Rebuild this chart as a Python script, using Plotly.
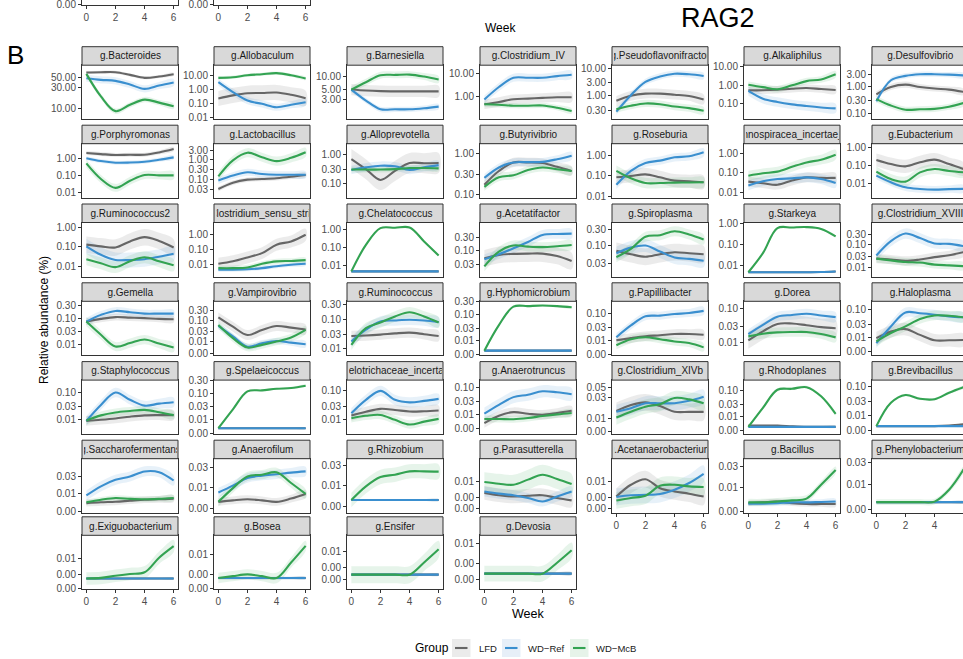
import plotly.graph_objects as go

W, H = 963, 659
FONT = "Liberation Sans, Arial, Helvetica, sans-serif"

WEEKS = [0, 1, 2, 3, 4, 5, 6]

GENERA = [
    "g.Bacteroides", "g.Allobaculum", "g.Barnesiella", "g.Clostridium_IV", "g.Pseudoflavonifractor", "g.Alkaliphilus", "g.Desulfovibrio",
    "g.Porphyromonas", "g.Lactobacillus", "g.Alloprevotella", "g.Butyrivibrio", "g.Roseburia", "g.Lachnospiracea_incertae_sedis", "g.Eubacterium",
    "g.Ruminococcus2", "g.Clostridium_sensu_stricto", "g.Chelatococcus", "g.Acetatifactor", "g.Spiroplasma", "g.Starkeya", "g.Clostridium_XVIII",
    "g.Gemella", "g.Vampirovibrio", "g.Ruminococcus", "g.Hyphomicrobium", "g.Papillibacter", "g.Dorea", "g.Haloplasma",
    "g.Staphylococcus", "g.Spelaeicoccus", "g.Erysipelotrichaceae_incertae_sedis", "g.Anaerotruncus", "g.Clostridium_XIVb", "g.Rhodoplanes", "g.Brevibacillus",
    "g.Saccharofermentans", "g.Anaerofilum", "g.Rhizobium", "g.Parasutterella", "g.Acetanaerobacterium", "g.Bacillus", "g.Phenylobacterium",
    "g.Exiguobacterium", "g.Bosea", "g.Ensifer", "g.Devosia",
]

# Relative abundance (%) per week 0..6, LFD group
LFD = {
    "g.Bacteroides": [64.6, 65.7, 65.7, 57.3, 49.2, 52.6, 59.3],
    "g.Allobaculum": [0.24, 0.4, 0.57, 0.6, 0.64, 0.44, 0.25],
    "g.Barnesiella": [5, 4.74, 4.6, 4.55, 4.55, 4.55, 4.55],
    "g.Clostridium_IV": [0.45, 0.57, 0.74, 0.79, 0.85, 0.9, 0.9],
    "g.Pseudoflavonifractor": [0.66, 1.0, 1.2, 1.2, 1.1, 0.99, 0.74],
    "g.Alkaliphilus": [0.54, 0.54, 0.58, 0.66, 0.72, 0.63, 0.56],
    "g.Desulfovibrio": [0.53, 1.0, 1.22, 1.0, 0.87, 0.79, 0.65],
    "g.Porphyromonas": [1.95, 1.7, 1.5, 1.55, 1.55, 2.1, 3.3],
    "g.Lactobacillus": [0.031, 0.065, 0.093, 0.1, 0.11, 0.13, 0.16],
    "g.Alloprevotella": [0.71, 0.32, 0.137, 0.28, 0.52, 0.51, 0.52],
    "g.Butyrivibrio": [0.17, 0.37, 0.6, 0.6, 0.58, 0.47, 0.37],
    "g.Roseburia": [0.086, 0.1, 0.12, 0.086, 0.059, 0.055, 0.049],
    "g.Lachnospiracea_incertae_sedis": [0.035, 0.029, 0.024, 0.04, 0.059, 0.055, 0.055],
    "g.Eubacterium": [0.2, 0.12, 0.09, 0.15, 0.21, 0.12, 0.064],
    "g.Ruminococcus2": [0.13, 0.107, 0.094, 0.19, 0.31, 0.2, 0.094],
    "g.Clostridium_sensu_stricto": [0.0117, 0.017, 0.031, 0.06, 0.22, 0.36, 1.0],
    "g.Chelatococcus": [0.0044, 0.0044, 0.0044, 0.0044, 0.0044, 0.0044, 0.0044],
    "g.Acetatifactor": [0.051, 0.068, 0.074, 0.076, 0.076, 0.062, 0.041],
    "g.Spiroplasma": [0.07, 0.056, 0.047, 0.056, 0.064, 0.06, 0.056],
    "g.Starkeya": [0.0046, 0.0046, 0.0046, 0.0046, 0.0046, 0.0047, 0.005],
    "g.Clostridium_XVIII": [0.024, 0.022, 0.019, 0.022, 0.028, 0.034, 0.047],
    "g.Gemella": [0.074, 0.094, 0.11, 0.105, 0.1, 0.094, 0.091],
    "g.Vampirovibrio": [0.138, 0.051, 0.021, 0.036, 0.055, 0.046, 0.038],
    "g.Ruminococcus": [0.027, 0.028, 0.03, 0.033, 0.035, 0.031, 0.027],
    "g.Hyphomicrobium": [0.0043, 0.0043, 0.0043, 0.0043, 0.0043, 0.0043, 0.0043],
    "g.Papillibacter": [0.01, 0.012, 0.014, 0.0153, 0.017, 0.017, 0.016],
    "g.Dorea": [0.0112, 0.021, 0.035, 0.036, 0.032, 0.028, 0.026],
    "g.Haloplasma": [0.0091, 0.016, 0.0195, 0.012, 0.0076, 0.0076, 0.0078],
    "g.Staphylococcus": [0.0091, 0.01, 0.0112, 0.013, 0.0145, 0.0148, 0.0148],
    "g.Spelaeicoccus": [0.0046, 0.0046, 0.0046, 0.0046, 0.0046, 0.0046, 0.0046],
    "g.Erysipelotrichaceae_incertae_sedis": [0.0141, 0.019, 0.024, 0.022, 0.0194, 0.0198, 0.021],
    "g.Anaerotruncus": [0.0046, 0.0087, 0.0118, 0.0103, 0.0094, 0.011, 0.0133],
    "g.Clostridium_XIVb": [0.0147, 0.02, 0.023, 0.019, 0.0141, 0.014, 0.014],
    "g.Rhodoplanes": [0.0047, 0.0047, 0.0047, 0.0044, 0.0042, 0.0042, 0.0042],
    "g.Brevibacillus": [0.0043, 0.0043, 0.0043, 0.0043, 0.0043, 0.0045, 0.005],
    "g.Saccharofermentans": [0.0051, 0.0054, 0.0056, 0.006, 0.0064, 0.0066, 0.0069],
    "g.Anaerofilum": [0.0044, 0.0048, 0.0051, 0.0048, 0.0044, 0.0053, 0.0069],
    "g.Rhizobium": [0.0043, 0.0043, 0.0043, 0.0043, 0.0043, 0.0043, 0.0043],
    "g.Parasutterella": [0.006, 0.0054, 0.0051, 0.0053, 0.0054, 0.0048, 0.0043],
    "g.Acetanaerobacterium": [0.0051, 0.0086, 0.011, 0.0074, 0.0064, 0.0058, 0.0051],
    "g.Bacillus": [0.0045, 0.0047, 0.0049, 0.0045, 0.0043, 0.0043, 0.0043],
    "g.Phenylobacterium": [0.0043, 0.0043, 0.0043, 0.0043, 0.0043, 0.0043, 0.0043],
    "g.Exiguobacterium": [0.0022, 0.0022, 0.0022, 0.0022, 0.0022, 0.0022, 0.0022],
    "g.Bosea": [0.0044, 0.0044, 0.0044, 0.0044, 0.0044, 0.0044, 0.0044],
    "g.Ensifer": [0.0037, 0.0037, 0.0037, 0.0037, 0.0037, 0.0037, 0.0037],
    "g.Devosia": [0.0036, 0.0036, 0.0036, 0.0036, 0.0036, 0.0036, 0.0036],
}

# WD-Ref group
WD_REF = {
    "g.Bacteroides": [48.3, 44.4, 42.2, 34.9, 27.9, 33.2, 38.7],
    "g.Allobaculum": [3.5, 0.68, 0.17, 0.10, 0.057, 0.085, 0.13],
    "g.Barnesiella": [5, 2.78, 1.75, 1.75, 1.75, 1.85, 2.02],
    "g.Clostridium_IV": [0.72, 2.5, 6.3, 6.3, 6.3, 7.4, 8.5],
    "g.Pseudoflavonifractor": [0.27, 1.06, 3.2, 5.0, 6.3, 6.0, 5.2],
    "g.Alkaliphilus": [0.5, 0.19, 0.126, 0.094, 0.076, 0.064, 0.057],
    "g.Desulfovibrio": [0.29, 1.78, 2.6, 3.0, 3.0, 2.9, 2.7],
    "g.Porphyromonas": [0.98, 0.67, 0.54, 0.55, 0.61, 0.8, 1.1],
    "g.Lactobacillus": [0.085, 0.15, 0.22, 0.18, 0.166, 0.166, 0.166],
    "g.Alloprevotella": [0.30, 0.37, 0.42, 0.40, 0.30, 0.37, 0.44],
    "g.Butyrivibrio": [0.25, 0.45, 0.6, 0.61, 0.62, 0.72, 0.88],
    "g.Roseburia": [0.037, 0.18, 0.44, 0.57, 0.83, 0.93, 1.46],
    "g.Lachnospiracea_incertae_sedis": [0.022, 0.037, 0.048, 0.052, 0.059, 0.048, 0.03],
    "g.Eubacterium": [0.028, 0.012, 0.0063, 0.0051, 0.0047, 0.005, 0.0052],
    "g.Ruminococcus2": [0.107, 0.04, 0.022, 0.022, 0.024, 0.032, 0.045],
    "g.Clostridium_sensu_stricto": [0.0047, 0.0047, 0.005, 0.006, 0.0081, 0.01, 0.0117],
    "g.Chelatococcus": [0.0044, 0.0044, 0.0044, 0.0044, 0.0044, 0.0044, 0.0044],
    "g.Acetatifactor": [0.047, 0.072, 0.118, 0.2, 0.36, 0.39, 0.4],
    "g.Spiroplasma": [0.06, 0.087, 0.1, 0.067, 0.045, 0.041, 0.036],
    "g.Starkeya": [0.0046, 0.0046, 0.0046, 0.0046, 0.0046, 0.0047, 0.005],
    "g.Clostridium_XVIII": [0.033, 0.145, 0.32, 0.2, 0.115, 0.11, 0.087],
    "g.Gemella": [0.074, 0.134, 0.19, 0.17, 0.15, 0.15, 0.15],
    "g.Vampirovibrio": [0.055, 0.018, 0.006, 0.0087, 0.011, 0.0093, 0.0078],
    "g.Ruminococcus": [0.0177, 0.044, 0.083, 0.09, 0.095, 0.09, 0.08],
    "g.Hyphomicrobium": [0.0043, 0.0043, 0.0043, 0.0043, 0.0043, 0.0043, 0.0043],
    "g.Papillibacter": [0.013, 0.035, 0.076, 0.08, 0.092, 0.1, 0.12],
    "g.Dorea": [0.0174, 0.033, 0.058, 0.065, 0.071, 0.063, 0.056],
    "g.Haloplasma": [0.006, 0.0245, 0.08, 0.074, 0.066, 0.057, 0.053],
    "g.Staphylococcus": [0.0091, 0.035, 0.1, 0.054, 0.033, 0.039, 0.044],
    "g.Spelaeicoccus": [0.0046, 0.0046, 0.0046, 0.0046, 0.0046, 0.0046, 0.0046],
    "g.Erysipelotrichaceae_incertae_sedis": [0.017, 0.049, 0.1, 0.049, 0.04, 0.045, 0.053],
    "g.Anaerotruncus": [0.0103, 0.022, 0.043, 0.053, 0.071, 0.065, 0.055],
    "g.Clostridium_XIVb": [0.0141, 0.017, 0.022, 0.022, 0.022, 0.025, 0.031],
    "g.Rhodoplanes": [0.0042, 0.0042, 0.0042, 0.0042, 0.0042, 0.0042, 0.0042],
    "g.Brevibacillus": [0.0043, 0.0043, 0.0043, 0.0043, 0.0043, 0.0043, 0.0043],
    "g.Saccharofermentans": [0.0085, 0.0156, 0.024, 0.03, 0.042, 0.04, 0.023],
    "g.Anaerofilum": [0.0075, 0.011, 0.017, 0.0194, 0.021, 0.023, 0.0247],
    "g.Rhizobium": [0.0043, 0.0043, 0.0043, 0.0043, 0.0043, 0.0043, 0.0043],
    "g.Parasutterella": [0.0064, 0.0058, 0.0054, 0.0048, 0.0041, 0.0051, 0.0064],
    "g.Acetanaerobacterium": [0.005, 0.0054, 0.0055, 0.0057, 0.0069, 0.0093, 0.014],
    "g.Bacillus": [0.0044, 0.0044, 0.0045, 0.0047, 0.0047, 0.0048, 0.0049],
    "g.Phenylobacterium": [0.0043, 0.0043, 0.0043, 0.0043, 0.0043, 0.0043, 0.0043],
    "g.Exiguobacterium": [0.0022, 0.0022, 0.0022, 0.0022, 0.0022, 0.0022, 0.0022],
    "g.Bosea": [0.0044, 0.0044, 0.0044, 0.0044, 0.0044, 0.0044, 0.0044],
    "g.Ensifer": [0.0037, 0.0037, 0.0037, 0.0037, 0.0037, 0.0037, 0.0037],
    "g.Devosia": [0.0036, 0.0036, 0.0036, 0.0036, 0.0036, 0.0036, 0.0036],
}

# WD-McB group
WD_MCB = {
    "g.Bacteroides": [60.4, 19.0, 8.9, 12.3, 16.1, 13.8, 11.5],
    "g.Allobaculum": [7.2, 8, 11, 13, 15.5, 11, 6.5],
    "g.Barnesiella": [5, 7.4, 10.7, 10.9, 11.1, 10, 8.5],
    "g.Clostridium_IV": [0.45, 0.43, 0.39, 0.39, 0.4, 0.32, 0.23],
    "g.Pseudoflavonifractor": [0.33, 0.44, 0.53, 0.5, 0.41, 0.36, 0.29],
    "g.Alkaliphilus": [1.07, 0.8, 0.62, 1.0, 1.7, 2.1, 4.0],
    "g.Desulfovibrio": [0.35, 0.2, 0.14, 0.145, 0.15, 0.18, 0.25],
    "g.Porphyromonas": [0.49, 0.062, 0.019, 0.049, 0.105, 0.1, 0.1],
    "g.Lactobacillus": [0.137, 0.9, 2.2, 1.3, 0.82, 1.2, 2.3],
    "g.Alloprevotella": [0.31, 0.31, 0.31, 0.32, 0.35, 0.35, 0.34],
    "g.Butyrivibrio": [0.15, 0.26, 0.29, 0.39, 0.45, 0.41, 0.37],
    "g.Roseburia": [0.18, 0.077, 0.045, 0.045, 0.047, 0.048, 0.049],
    "g.Lachnospiracea_incertae_sedis": [0.072, 0.096, 0.118, 0.21, 0.36, 0.5, 0.92],
    "g.Eubacterium": [0.046, 0.018, 0.013, 0.042, 0.064, 0.05, 0.042],
    "g.Ruminococcus2": [0.024, 0.015, 0.0096, 0.019, 0.03, 0.019, 0.012],
    "g.Clostridium_sensu_stricto": [0.006, 0.006, 0.0066, 0.0117, 0.017, 0.018, 0.0204],
    "g.Chelatococcus": [0.0044, 0.14, 1.24, 1.3, 1.35, 0.22, 0.035],
    "g.Acetatifactor": [0.026, 0.09, 0.15, 0.136, 0.13, 0.14, 0.156],
    "g.Spiroplasma": [0.046, 0.08, 0.18, 0.2, 0.26, 0.21, 0.15],
    "g.Starkeya": [0.0046, 0.038, 0.6, 0.64, 0.67, 0.55, 0.24],
    "g.Clostridium_XVIII": [0.024, 0.02, 0.017, 0.016, 0.013, 0.012, 0.011],
    "g.Gemella": [0.074, 0.023, 0.0081, 0.011, 0.015, 0.0105, 0.0074],
    "g.Vampirovibrio": [0.061, 0.015, 0.0055, 0.0073, 0.0104, 0.016, 0.036],
    "g.Ruminococcus": [0.0136, 0.05, 0.077, 0.123, 0.17, 0.123, 0.077],
    "g.Hyphomicrobium": [0.0043, 0.039, 0.19, 0.2, 0.21, 0.2, 0.18],
    "g.Papillibacter": [0.0066, 0.011, 0.013, 0.011, 0.0091, 0.0079, 0.0055],
    "g.Dorea": [0.0148, 0.0178, 0.0195, 0.02, 0.02, 0.0174, 0.0138],
    "g.Haloplasma": [0.0069, 0.014, 0.0245, 0.046, 0.062, 0.06, 0.053],
    "g.Staphylococcus": [0.0094, 0.0145, 0.0186, 0.021, 0.023, 0.019, 0.0148],
    "g.Spelaeicoccus": [0.0046, 0.024, 0.115, 0.126, 0.145, 0.154, 0.19],
    "g.Erysipelotrichaceae_incertae_sedis": [0.0114, 0.0138, 0.0148, 0.01, 0.0069, 0.0087, 0.0108],
    "g.Anaerotruncus": [0.0065, 0.0065, 0.0064, 0.0071, 0.0084, 0.0097, 0.011],
    "g.Clostridium_XIVb": [0.0104, 0.0141, 0.0184, 0.021, 0.029, 0.027, 0.022],
    "g.Rhodoplanes": [0.0042, 0.022, 0.106, 0.115, 0.133, 0.06, 0.013],
    "g.Brevibacillus": [0.0043, 0.027, 0.05, 0.037, 0.036, 0.06, 0.093],
    "g.Saccharofermentans": [0.0054, 0.0064, 0.0072, 0.0068, 0.0066, 0.0068, 0.0072],
    "g.Anaerofilum": [0.0044, 0.0096, 0.0186, 0.0205, 0.0234, 0.0128, 0.0069],
    "g.Rhizobium": [0.0043, 0.0093, 0.0157, 0.0179, 0.0215, 0.0215, 0.0212],
    "g.Parasutterella": [0.0097, 0.009, 0.0086, 0.0108, 0.0134, 0.0111, 0.0089],
    "g.Acetanaerobacterium": [0.0043, 0.0048, 0.0053, 0.0082, 0.0086, 0.008, 0.0078],
    "g.Bacillus": [0.0047, 0.0047, 0.0049, 0.0052, 0.0057, 0.0117, 0.025],
    "g.Phenylobacterium": [0.0043, 0.0043, 0.0043, 0.0043, 0.0044, 0.0078, 0.021],
    "g.Exiguobacterium": [0.0022, 0.0023, 0.0027, 0.0031, 0.0035, 0.0105, 0.025],
    "g.Bosea": [0.0044, 0.0047, 0.005, 0.0047, 0.0044, 0.0076, 0.0137],
    "g.Ensifer": [0.0037, 0.0037, 0.0037, 0.0037, 0.0037, 0.0063, 0.0112],
    "g.Devosia": [0.0036, 0.0036, 0.0036, 0.0036, 0.0036, 0.0052, 0.0079],
}

# Confidence band (multiplicative half-width) for [LFD, WD-Ref, WD-McB]
BAND = {
    "g.Bacteroides": [1.08, 1.2, 1.15], "g.Allobaculum": [3.5, 1.8, 1.3], "g.Barnesiella": [1.35, 1.15, 1.2],
    "g.Clostridium_IV": [1.6, 1.5, 1.3], "g.Pseudoflavonifractor": [1.5, 1.3, 1.35], "g.Alkaliphilus": [1.6, 1.8, 1.5],
    "g.Desulfovibrio": [1.3, 1.25, 1.3], "g.Porphyromonas": [1.3, 1.3, 1.7], "g.Lactobacillus": [1.3, 1.5, 1.7],
    "g.Alloprevotella": [2.2, 1.4, 1.25], "g.Butyrivibrio": [1.3, 1.25, 1.25], "g.Roseburia": [2.1, 1.6, 1.8],
    "g.Lachnospiracea_incertae_sedis": [1.8, 1.8, 1.8], "g.Eubacterium": [2.3, 1.6, 1.9], "g.Ruminococcus2": [2.6, 2.4, 2.0],
    "g.Clostridium_sensu_stricto": [2.5, 1.35, 1.5], "g.Chelatococcus": [1.05, 1.05, 1.1], "g.Acetatifactor": [2.0, 1.5, 1.5],
    "g.Spiroplasma": [1.75, 1.55, 1.4], "g.Starkeya": [1.05, 1.05, 1.1], "g.Clostridium_XVIII": [1.6, 1.7, 1.5],
    "g.Gemella": [1.35, 1.4, 1.5], "g.Vampirovibrio": [1.7, 1.4, 1.5], "g.Ruminococcus": [1.5, 1.5, 1.5],
    "g.Hyphomicrobium": [1.05, 1.05, 1.1], "g.Papillibacter": [1.5, 1.4, 1.4], "g.Dorea": [1.8, 1.4, 1.4],
    "g.Haloplasma": [1.7, 1.5, 1.5], "g.Staphylococcus": [1.5, 1.5, 1.4], "g.Spelaeicoccus": [1.05, 1.05, 1.08],
    "g.Erysipelotrichaceae_incertae_sedis": [1.5, 1.5, 1.4], "g.Anaerotruncus": [1.5, 1.7, 1.35],
    "g.Clostridium_XIVb": [1.55, 1.45, 1.45], "g.Rhodoplanes": [1.08, 1.05, 1.12], "g.Brevibacillus": [1.05, 1.05, 1.1],
    "g.Saccharofermentans": [1.25, 1.4, 1.2], "g.Anaerofilum": [1.25, 1.3, 1.3], "g.Rhizobium": [1.05, 1.05, 1.5],
    "g.Parasutterella": [1.35, 1.25, 1.55], "g.Acetanaerobacterium": [1.45, 1.45, 1.45], "g.Bacillus": [1.15, 1.15, 1.2],
    "g.Phenylobacterium": [1.05, 1.05, 1.15], "g.Exiguobacterium": [1.05, 1.05, 1.6], "g.Bosea": [1.05, 1.05, 1.2],
    "g.Ensifer": [1.05, 1.05, 1.45], "g.Devosia": [1.05, 1.05, 1.3],
}

# y-axis tick values per panel
YTICKS = {
    "g.Bacteroides": [10, 30, 50], "g.Allobaculum": [0.01, 0.1, 1, 10], "g.Barnesiella": [3, 5, 10],
    "g.Clostridium_IV": [0.1, 1, 10], "g.Pseudoflavonifractor": [0.3, 1, 3, 10], "g.Alkaliphilus": [0.1, 1, 10],
    "g.Desulfovibrio": [0.1, 0.3, 1, 3], "g.Porphyromonas": [0.01, 0.1, 1], "g.Lactobacillus": [0.03, 0.1, 0.3, 1, 3],
    "g.Alloprevotella": [0.1, 0.3, 1], "g.Butyrivibrio": [0.1, 0.3, 1], "g.Roseburia": [0.01, 0.1, 1],
    "g.Lachnospiracea_incertae_sedis": [0.01, 0.1, 1], "g.Eubacterium": [0.01, 0.1, 1], "g.Ruminococcus2": [0.01, 0.1, 1],
    "g.Clostridium_sensu_stricto": [0.01, 0.1, 1], "g.Chelatococcus": [0.01, 0.1, 1], "g.Acetatifactor": [0.03, 0.1, 0.3],
    "g.Spiroplasma": [0.03, 0.1, 0.3], "g.Starkeya": [0.01, 0.1, 1], "g.Clostridium_XVIII": [0.01, 0.03, 0.1, 0.3],
    "g.Gemella": [0.01, 0.03, 0.1, 0.3], "g.Vampirovibrio": [0.003, 0.01, 0.03, 0.1, 0.3], "g.Ruminococcus": [0.01, 0.03, 0.1, 0.3],
    "g.Hyphomicrobium": [0.003, 0.01, 0.03, 0.1, 0.3], "g.Papillibacter": [0.003, 0.01, 0.03, 0.1], "g.Dorea": [0.01, 0.03, 0.1],
    "g.Haloplasma": [0.003, 0.01, 0.03, 0.1], "g.Staphylococcus": [0.01, 0.03, 0.1], "g.Spelaeicoccus": [0.003, 0.01, 0.03, 0.1, 0.3],
    "g.Erysipelotrichaceae_incertae_sedis": [0.01, 0.03, 0.1], "g.Anaerotruncus": [0.003, 0.01, 0.03, 0.1],
    "g.Clostridium_XIVb": [0.005, 0.01, 0.03, 0.05], "g.Rhodoplanes": [0.003, 0.01, 0.03, 0.1], "g.Brevibacillus": [0.003, 0.01, 0.03, 0.1],
    "g.Saccharofermentans": [0.003, 0.01, 0.03], "g.Anaerofilum": [0.003, 0.01, 0.03], "g.Rhizobium": [0.003, 0.01, 0.03],
    "g.Parasutterella": [0.003, 0.005, 0.01], "g.Acetanaerobacterium": [0.003, 0.005, 0.01], "g.Bacillus": [0.003, 0.01, 0.03],
    "g.Phenylobacterium": [0.003, 0.01, 0.03], "g.Exiguobacterium": [0.001, 0.003, 0.01], "g.Bosea": [0.003, 0.005, 0.01],
    "g.Ensifer": [0.003, 0.005, 0.01], "g.Devosia": [0.003, 0.005, 0.01],
}

# visible y range per panel (log10 units)
YRANGE = {
    "g.Bacteroides": [0.77, 1.974], "g.Allobaculum": [-2.1, 1.76], "g.Barnesiella": [0.014, 1.262],
    "g.Clostridium_IV": [-0.99, 1.34], "g.Pseudoflavonifractor": [-0.844, 1.107], "g.Alkaliphilus": [-1.83, 1.09],
    "g.Desulfovibrio": [-1.21, 0.815], "g.Porphyromonas": [-2.29, 0.83], "g.Lactobacillus": [-1.95, 0.80],
    "g.Alloprevotella": [-1.47, 0.375], "g.Butyrivibrio": [-1.09, 0.24], "g.Roseburia": [-2.07, 0.59],
    "g.Lachnospiracea_incertae_sedis": [-2.3, 0.54], "g.Eubacterium": [-2.77, 0.2], "g.Ruminococcus2": [-2.49, 0.23],
    "g.Clostridium_sensu_stricto": [-2.78, 0.82], "g.Chelatococcus": [-2.645, 0.415], "g.Acetatifactor": [-1.95, 0.007],
    "g.Spiroplasma": [-1.9, -0.33], "g.Starkeya": [-2.54, 0.046], "g.Clostridium_XVIII": [-2.42, 0.0],
    "g.Gemella": [-2.43, -0.35], "g.Vampirovibrio": [-2.62, -0.115], "g.Ruminococcus": [-2.22, -0.40],
    "g.Hyphomicrobium": [-2.54, -0.52], "g.Papillibacter": [-2.55, -0.57], "g.Dorea": [-2.40, -0.775],
    "g.Haloplasma": [-2.67, -0.69], "g.Staphylococcus": [-2.525, -0.545], "g.Spelaeicoccus": [-2.56, -0.51],
    "g.Erysipelotrichaceae_incertae_sedis": [-2.49, -0.63], "g.Anaerotruncus": [-2.75, -0.73],
    "g.Clostridium_XIVb": [-2.36, -1.13], "g.Rhodoplanes": [-2.65, -0.61], "g.Brevibacillus": [-2.64, -0.79],
    "g.Saccharofermentans": [-2.567, -1.01], "g.Anaerofilum": [-2.623, -1.295], "g.Rhizobium": [-2.675, -1.358],
    "g.Parasutterella": [-2.603, -1.564], "g.Acetanaerobacterium": [-2.603, -1.564], "g.Bacillus": [-2.56, -1.35],
    "g.Phenylobacterium": [-2.59, -1.453], "g.Exiguobacterium": [-3.01, -1.25], "g.Bosea": [-2.53, -1.7],
    "g.Ensifer": [-2.71, -1.684], "g.Devosia": [-2.673, -1.883],
}

XTICKS = [0, 2, 4, 6]
GROUP_NAMES = ["LFD", "WD\u2212Ref", "WD\u2212McB"]
LINE_COLORS = ["#666666", "#3a8fcf", "#33a352"]
FILL_COLORS = ["rgba(102,102,102,0.13)", "rgba(58,143,207,0.12)", "rgba(51,163,82,0.12)"]

# ---------------- layout geometry (pixels) ----------------
COL_LEFT = [82, 214, 347, 480, 612, 744, 872]
PANEL_W = 96
ROW_TOP = [46.7, 125.2, 204.0, 282.8, 361.6, 440.2, 516.8]
STRIP_H = 18.5
PLOT_H = 54


def fmt(v):
    return f"{v:.2f}" if v >= 0.0095 else "0.00"


def px(x):
    return x / W


def py(y):
    return 1 - y / H


fig = go.Figure()
layout_axes = {}
shapes = []
annotations = []

AX_LINE = "#333333"
TICK_FONT = dict(family=FONT, size=10, color="#4d4d4d")

series = [LFD, WD_REF, WD_MCB]

for i, g in enumerate(GENERA):
    k = i + 1
    r, c = divmod(i, 7)
    sfx = "" if k == 1 else str(k)
    xa, ya = "x" + sfx, "y" + sfx
    x0 = COL_LEFT[c]
    x1 = min(x0 + PANEL_W, W)
    st = ROW_TOP[r]
    pt = st + STRIP_H
    pb = pt + PLOT_H
    bottom = (r == 6) or (r == 5 and c >= 4)
    xr_end = -0.3 + 6.6 * (x1 - x0) / PANEL_W

    layout_axes["xaxis" + sfx] = dict(
        domain=[px(x0), px(x1)], range=[-0.3, xr_end], anchor=ya, automargin=False,
        showline=True, mirror=True, linecolor=AX_LINE, linewidth=1,
        showgrid=False, zeroline=False, fixedrange=True,
        ticks="outside" if bottom else "", ticklen=3, tickcolor=AX_LINE,
        tickvals=XTICKS, ticktext=[str(t) for t in XTICKS],
        showticklabels=bottom, tickfont=TICK_FONT,
    )
    layout_axes["yaxis" + sfx] = dict(
        domain=[py(pb), py(pt)], type="log", range=YRANGE[g], anchor=xa, automargin=False,
        showline=True, mirror=True, linecolor=AX_LINE, linewidth=1,
        showgrid=False, zeroline=False, fixedrange=True,
        ticks="outside", ticklen=3, tickcolor=AX_LINE,
        tickvals=YTICKS[g], ticktext=[fmt(v) for v in YTICKS[g]],
        tickfont=TICK_FONT,
    )

    # ribbons
    for gi in range(3):
        v = series[gi][g]
        f = BAND[g][gi]
        up = [a * f for a in v]
        lo = [a / f for a in v]
        fig.add_trace(go.Scatter(
            x=WEEKS + WEEKS[::-1], y=up + lo[::-1], fill="toself",
            fillcolor=FILL_COLORS[gi], mode="lines",
            line=dict(width=0, shape="spline", smoothing=1),
            hoverinfo="skip", showlegend=False, xaxis=xa, yaxis=ya,
        ))
    # lines
    for gi in range(3):
        fig.add_trace(go.Scatter(
            x=WEEKS, y=series[gi][g], mode="lines", name=GROUP_NAMES[gi],
            line=dict(color=LINE_COLORS[gi], width=2.1, shape="spline", smoothing=1),
            showlegend=False, xaxis=xa, yaxis=ya,
        ))

    # strip
    shapes.append(dict(type="rect", xref="paper", yref="paper",
                       x0=px(x0), x1=px(x0 + PANEL_W), y0=py(pt), y1=py(st),
                       fillcolor="#d9d9d9", line=dict(color=AX_LINE, width=1), layer="above"))
    annotations.append(dict(xref="paper", yref="paper", x=px(x0 + PANEL_W / 2), y=py(st + STRIP_H / 2),
                            xanchor="center", yanchor="middle", text=g, showarrow=False,
                            width=PANEL_W - 3, align="center",
                            font=dict(family=FONT, size=10, color="#1a1a1a")))

# partial panels of the figure above (cut at top edge)
for j, x0 in enumerate([82, 214]):
    k = len(GENERA) + 1 + j
    sfx = str(k)
    layout_axes["xaxis" + sfx] = dict(
        domain=[px(x0), px(x0 + PANEL_W)], range=[-0.3, 6.3], anchor="y" + sfx, automargin=False,
        showline=True, mirror=True, linecolor=AX_LINE, linewidth=1, showgrid=False, zeroline=False,
        ticks="outside", ticklen=3, tickcolor=AX_LINE, tickvals=XTICKS,
        ticktext=[str(t) for t in XTICKS], tickfont=TICK_FONT, fixedrange=True)
    layout_axes["yaxis" + sfx] = dict(
        domain=[py(4.5), 1], range=[0, 1], anchor="x" + sfx, automargin=False,
        showline=True, mirror=True, linecolor=AX_LINE, linewidth=1, showgrid=False, zeroline=False,
        ticks="outside", ticklen=3, tickcolor=AX_LINE, tickvals=[0.05], ticktext=["0.00"],
        ticklabeloverflow="allow", tickfont=TICK_FONT, fixedrange=True)
    fig.add_trace(go.Scatter(x=[None], y=[None], mode="lines", showlegend=False,
                             xaxis="x" + sfx, yaxis="y" + sfx))

# titles / labels
annotations += [
    dict(xref="paper", yref="paper", x=px(500), y=py(28), text="Week", showarrow=False,
         font=dict(family=FONT, size=12, color="#000000"), xanchor="center", yanchor="middle"),
    dict(xref="paper", yref="paper", x=px(718), y=py(18), text="RAG2", showarrow=False,
         font=dict(family=FONT, size=27, color="#000000"), xanchor="center", yanchor="middle"),
    dict(xref="paper", yref="paper", x=px(15), y=py(55), text="B", showarrow=False,
         font=dict(family=FONT, size=26, color="#000000"), xanchor="center", yanchor="middle"),
    dict(xref="paper", yref="paper", x=px(44), y=py(320), text="Relative abundance (%)", showarrow=False,
         textangle=-90, font=dict(family=FONT, size=12, color="#000000"), xanchor="center", yanchor="middle"),
    dict(xref="paper", yref="paper", x=px(528), y=py(614), text="Week", showarrow=False,
         font=dict(family=FONT, size=12.5, color="#000000"), xanchor="center", yanchor="middle"),
    dict(xref="paper", yref="paper", x=px(413), y=py(648), text="Group", showarrow=False,
         font=dict(family=FONT, size=12, color="#000000"), xanchor="left", yanchor="middle"),
]

# manual legend keys
KEY_X = [452, 502, 570]
LABEL_X = [477, 526, 594]
KEY_BG = ["#ebebeb", "#e7eff8", "#e6f3e9"]
for gi in range(3):
    kx = KEY_X[gi]
    shapes.append(dict(type="rect", xref="paper", yref="paper", x0=px(kx), x1=px(kx + 18.5),
                       y0=py(657), y1=py(639), fillcolor=KEY_BG[gi], line=dict(width=0)))
    shapes.append(dict(type="line", xref="paper", yref="paper", x0=px(kx + 3), x1=px(kx + 15.5),
                       y0=py(648), y1=py(648), line=dict(color=LINE_COLORS[gi], width=2.1)))
    annotations.append(dict(xref="paper", yref="paper", x=px(LABEL_X[gi]), y=py(648), text=GROUP_NAMES[gi],
                            showarrow=False, xanchor="left", yanchor="middle",
                            font=dict(family=FONT, size=9.5, color="#1a1a1a")))

fig.update_layout(
    template="none",
    width=W, height=H, margin=dict(l=0, r=0, t=0, b=0, pad=0, autoexpand=False),
    paper_bgcolor="white", plot_bgcolor="white", showlegend=False,
    font=dict(family=FONT), shapes=shapes, annotations=annotations,
    **layout_axes,
)

POST = (
    "var d=document.documentElement,b=document.body;"
    "[d,b].forEach(function(e){e.style.margin='0';e.style.padding='0';e.style.overflow='hidden';e.style.height='659px';});"
    "var g=document.getElementById('{plot_id}');"
    "if(g){g.style.position='absolute';g.style.left='0px';g.style.top='0px';}"
)

fig.write_html("out.html", include_plotlyjs=True, full_html=True,
               config={"displayModeBar": False, "staticPlot": True},
               post_script=POST)
